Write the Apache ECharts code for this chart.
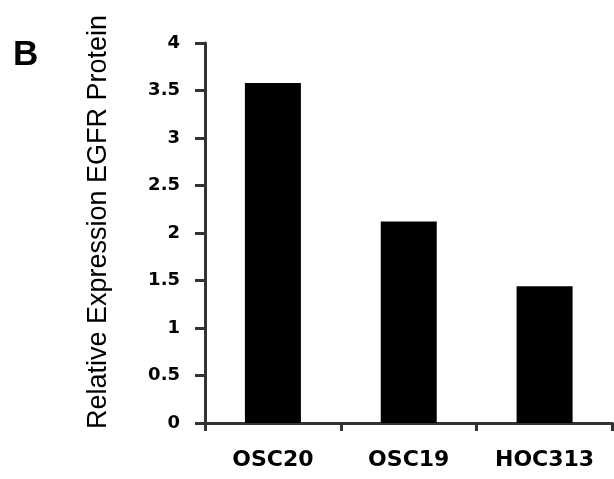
<!DOCTYPE html>
<html>
<head>
<meta charset="utf-8">
<script src="https://cdn.jsdelivr.net/npm/echarts@6/dist/echarts.min.js"></script>
<style>
  html, body { margin: 0; padding: 0; background: #fff; }
  #chart { width: 614px; height: 479px; }
</style>
</head>
<body>
<div id="chart"></div>
<script>
var cellLines = ['OSC20', 'OSC19', 'HOC313'];
var egfrExpression = [3.58, 2.12, 1.44];

var myChart = echarts.init(document.getElementById('chart'));

var option = {
    animation: false,
    grid: { left: 205, right: 1.5, top: 43, bottom: 56 },
    graphic: [{
        type: 'text',
        left: 13, top: 38,
        style: { text: 'B', font: 'bold 35px "Liberation Sans"', fill: '#000' }
    }, {
        type: 'text',
        x: 99, y: 222,
        rotation: Math.PI / 2,
        style: {
            text: 'Relative Expression EGFR Protein',
            font: '27px "Liberation Sans"',
            fill: '#000',
            align: 'center',
            verticalAlign: 'middle'
        }
    }],
    xAxis: {
        type: 'category',
        data: cellLines,
        axisLine: { lineStyle: { color: '#333', width: 3 } },
        axisTick: { show: true, length: 8, lineStyle: { color: '#333', width: 3 } },
        axisLabel: {
            color: '#000',
            fontFamily: 'DejaVu Sans',
            fontWeight: 'bold',
            fontSize: 22,
            margin: 26
        }
    },
    yAxis: {
        type: 'value',
        min: 0,
        max: 4,
        interval: 0.5,
        splitLine: { show: false },
        axisLine: { show: true, lineStyle: { color: '#333', width: 3 } },
        axisTick: { show: true, length: 10, lineStyle: { color: '#333', width: 3 } },
        axisLabel: {
            color: '#000',
            fontFamily: 'DejaVu Sans',
            fontWeight: 'bold',
            fontSize: 18,
            margin: 25
        }
    },
    series: [{
        type: 'bar',
        data: egfrExpression,
        barWidth: 56,
        itemStyle: { color: '#000' }
    }]
};

myChart.setOption(option);
</script>
</body>
</html>
